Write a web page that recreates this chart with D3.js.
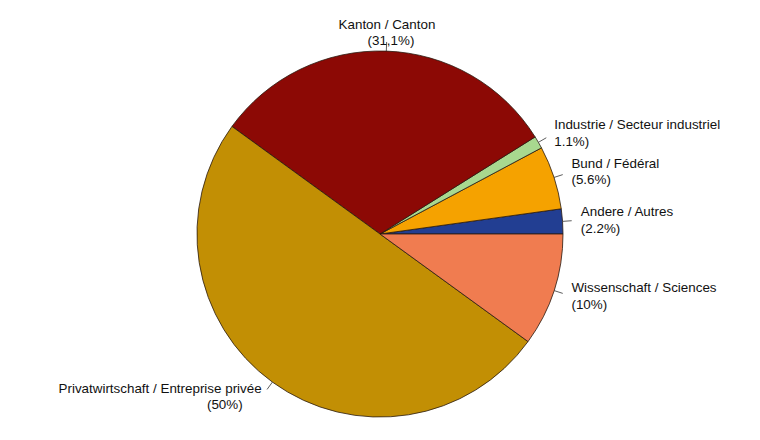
<!DOCTYPE html>
<html>
<head>
<meta charset="utf-8">
<script src="https://cdn.jsdelivr.net/npm/d3@7"></script>
<style>
  body { margin: 0; background: #fff; }
  svg { display: block; }
  text { font-family: "Liberation Sans", Arial, sans-serif; font-size: 13.4px; fill: #111; }
</style>
</head>
<body>
<div id="chart"></div>
<script>
// Slices in drawing order (counterclockwise from 3 o'clock, like R's pie)
const names = ["Andere / Autres", "Bund / Fédéral", "Industrie / Secteur industriel",
               "Kanton / Canton", "Privatwirtschaft / Entreprise privée", "Wissenschaft / Sciences"];
const shares = [2.2, 5.6, 1.1, 31.1, 50, 10];
const shareLabels = ["(2.2%)", "(5.6%)", "1.1%)", "(31,1%)", "(50%)", "(10%)"];
const colors = ["#223e92", "#f5a200", "#a8d88f", "#8c0905", "#c28f04", "#f07c50"];

const width = 760, height = 440;
const cx = 380, cy = 234, radius = 183;

const svg = d3.select("#chart").append("svg")
    .attr("width", width)
    .attr("height", height);

const g = svg.append("g")
    .attr("transform", `translate(${cx},${cy})`);

const rows = names.map((n, i) => ({ name: n, value: shares[i], pct: shareLabels[i], color: colors[i] }));

// start at east, go counterclockwise
const pie = d3.pie()
    .sort(null)
    .value(d => d.value)
    .startAngle(Math.PI / 2)
    .endAngle(Math.PI / 2 - 2 * Math.PI);

const arc = d3.arc().innerRadius(0).outerRadius(radius);
const arcs = pie(rows);

g.selectAll("path.slice")
    .data(arcs)
    .enter().append("path")
    .attr("class", "slice")
    .attr("d", arc)
    .attr("fill", d => d.data.color)
    .attr("stroke", "#2a1a10")
    .attr("stroke-width", 0.8);

// tick marks and labels
arcs.forEach(d => {
    const a = (d.startAngle + d.endAngle) / 2;
    const sx = Math.sin(a), sy = -Math.cos(a);

    g.append("line")
        .attr("x1", sx * radius).attr("y1", sy * radius)
        .attr("x2", sx * radius * 1.05).attr("y2", sy * radius * 1.05)
        .attr("stroke", "#333")
        .attr("stroke-width", 0.8);

    const lx = sx * radius * 1.1, ly = sy * radius * 1.1;
    let anchor = sx > 0 ? "start" : "end";
    if (Math.abs(sx) < 0.1) anchor = "middle";

    const t = g.append("text")
        .attr("text-anchor", anchor)
        .attr("dominant-baseline", "middle");
    t.append("tspan")
        .attr("x", lx)
        .attr("y", ly - 8)
        .text(d.data.name);
    // the big left label has its percentage pulled inwards
    const dx2 = anchor === "end" ? -19 : (anchor === "middle" ? 4 : 0);
    t.append("tspan")
        .attr("x", lx + dx2)
        .attr("y", ly + 8.5)
        .text(d.data.pct);
});
</script>
</body>
</html>
